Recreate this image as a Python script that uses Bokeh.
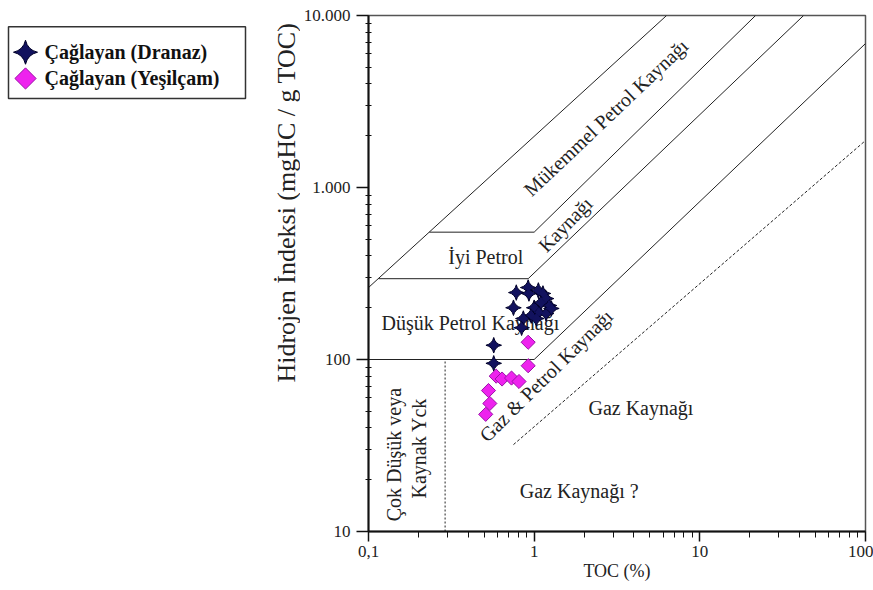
import numpy as np
from bokeh.plotting import figure
from bokeh.layouts import row
from bokeh.models import Range1d, FixedTicker
from bokeh.core.properties import value
from bokeh.embed import file_html
from bokeh.resources import INLINE

# ---------------- data ----------------
series_names = ["Çağlayan (Dranaz)", "Çağlayan (Yeşilçam)"]

dranaz_toc = [0.78, 0.92, 0.75, 0.93, 1.06, 1.13, 1.18, 1.23, 1.00, 1.07,
              0.96, 1.18, 0.86, 0.84, 1.27, 0.57, 0.57, 1.10, 1.03]
dranaz_hi = [245, 262, 200, 242, 252, 242, 226, 206, 200, 188,
             180, 185, 173, 153, 198, 121, 95, 214, 173]

yesilcam_toc = [0.92, 0.92, 0.59, 0.64, 0.73, 0.81, 0.53, 0.54, 0.51]
yesilcam_hi = [126, 92, 80, 77, 78, 74.5, 66, 55.5, 48]

x_tick_values = [0.1, 1, 10, 100]
x_tick_labels = ["0,1", "1", "10", "100"]
y_tick_values = [10, 100, 1000, 10000]
y_tick_labels = ["10", "100", "1.000", "10.000"]

x_title = "TOC (%)"
y_title = "Hidrojen İndeksi (mgHC / g TOC)"

# boundary lines of the classification diagram (TOC, HI)
solid_x = [[0.1, 6.3], [0.115, 0.92], [0.233, 1.0], [0.1, 1.0],
           [1.0, 21.7], [0.92, 42.3], [1.0, 100]]
solid_y = [[262, 10000], [295, 295], [550, 550], [100, 100],
           [550, 10000], [295, 10000], [100, 6870]]
dotted_x = [[0.75, 100]]
dotted_y = [[32, 1875]]
vert_x = [[0.29, 0.29]]
vert_y = [[10, 100]]

zone_labels = ["Mükemmel Petrol Kaynağı", "Kaynağı", "İyi Petrol",
               "Düşük Petrol Kaynağı", "Gaz & Petrol Kaynağı", "Gaz Kaynağı",
               "Gaz Kaynağı ?", "Çok Düşük veya", "Kaynak Yck"]
zone_x = [2.71, 1.54, 0.51, 0.412, 1.18, 4.41, 1.87, 0.1434, 0.203]
zone_y = [2553, 610, 392, 162, 80.7, 51.9, 17.3, 28.0, 30.5]
zone_angle = [0.76, 0.80, 0, 0, 0.78, 0, 0, np.pi / 2, np.pi / 2]

SERIF = "'Liberation Serif', serif"
NAVY_FILL, NAVY_LINE = "#12125e", "#000028"
MAG_FILL, MAG_LINE = "#ee22ee", "#9a10a8"

# ---------------- legend panel (also holds the y title) ----------------
LW = 300
leg = figure(width=LW, height=590, x_range=Range1d(0, LW), y_range=Range1d(590, 0),
             x_axis_type=None, y_axis_type=None, toolbar_location=None,
             output_backend="svg", min_border=0)
leg.outline_line_color = None
leg.quad(left=[8], right=[245], top=[13], bottom=[95], fill_color=None,
         line_color="#333333", line_width=1.5)
leg.scatter(x=[25], y=[42], marker="square_pin", angle=np.pi / 4, size=17,
            fill_color=NAVY_FILL, line_color=NAVY_LINE, line_width=1)
leg.scatter(x=[25], y=[42], marker="square", angle=np.pi / 4, size=8,
            fill_color=NAVY_FILL, line_color=None)
leg.scatter(x=[25], y=[72], marker="square", angle=np.pi / 4, size=15,
            fill_color=MAG_FILL, line_color=MAG_LINE, line_width=1)
leg.text(x=[44, 44], y=[42, 72], text=series_names, text_font=value(SERIF),
         text_font_style="bold", text_font_size="20px", text_baseline="middle",
         text_align="left", text_color="#111111")
# y-axis title, reading bottom-to-top
leg.text(x=[286], y=[214], text=[y_title], angle=np.pi / 2,
         text_font=value(SERIF), text_font_size="26px", text_color="#222222",
         text_align="center", text_baseline="middle")

# ---------------- main plot ----------------
p = figure(width=873 - LW, height=590, x_axis_type="log", y_axis_type="log",
           x_range=Range1d(0.1, 100), y_range=Range1d(10, 10000),
           toolbar_location=None, output_backend="svg",
           min_border_left=367 - LW, min_border_right=8,
           min_border_top=15, min_border_bottom=59)
p.xgrid.visible = False
p.ygrid.visible = False
p.outline_line_color = "#555555"
p.outline_line_width = 1.5

xax = p.xaxis[0]
yax = p.yaxis[0]
xax.ticker = FixedTicker(ticks=x_tick_values,
                         minor_ticks=[v * m for v in [0.1, 1, 10] for m in range(2, 10)])
yax.ticker = FixedTicker(ticks=y_tick_values,
                         minor_ticks=[v * m for v in [10, 100, 1000] for m in range(2, 10)])
xax.major_label_overrides = dict(zip(x_tick_values, x_tick_labels))
yax.major_label_overrides = dict(zip(y_tick_values, y_tick_labels))

for ax in (xax, yax):
    ax.axis_line_width = 2
    ax.axis_line_color = "#111111"
    ax.major_tick_line_color = "#111111"
    ax.minor_tick_line_color = "#111111"
    ax.major_tick_line_width = 1.5
    ax.major_label_text_font = SERIF
    ax.major_label_text_font_size = "17px"
    ax.major_label_text_color = "#222222"

xax.major_tick_out = 10
xax.major_tick_in = 0
xax.minor_tick_out = 6
xax.minor_tick_in = 0
yax.major_tick_out = 12
yax.major_tick_in = 0
yax.minor_tick_out = 3
yax.minor_tick_in = 3
yax.major_label_standoff = 6
xax.major_label_standoff = 4

xax.axis_label = x_title
xax.axis_label_text_font = SERIF
xax.axis_label_text_font_style = "normal"
xax.axis_label_text_font_size = "18px"
xax.axis_label_text_color = "#222222"
xax.axis_label_standoff = 1

p.multi_line(xs=solid_x, ys=solid_y, line_color="#222222", line_width=1)
p.multi_line(xs=dotted_x, ys=dotted_y, line_color="#222222", line_width=1,
             line_dash="3 2")
p.multi_line(xs=vert_x, ys=vert_y, line_color="#222222", line_width=1,
             line_dash="2 2")

p.text(x=zone_x, y=zone_y, text=zone_labels, angle=zone_angle,
       text_font=value(SERIF), text_font_size="20px", text_color="#222222",
       text_align="center", text_baseline="middle")

p.scatter(x=dranaz_toc, y=dranaz_hi, marker="square_pin", angle=np.pi / 4, size=11,
          fill_color=NAVY_FILL, line_color=NAVY_LINE, line_width=1)
p.scatter(x=dranaz_toc, y=dranaz_hi, marker="square", angle=np.pi / 4, size=6,
          fill_color=NAVY_FILL, line_color=None)
p.scatter(x=yesilcam_toc, y=yesilcam_hi, marker="square", angle=np.pi / 4, size=10,
          fill_color=MAG_FILL, line_color=MAG_LINE, line_width=1)

layout = row(leg, p, spacing=0)
open("out.html", "w").write(file_html(layout, INLINE))
